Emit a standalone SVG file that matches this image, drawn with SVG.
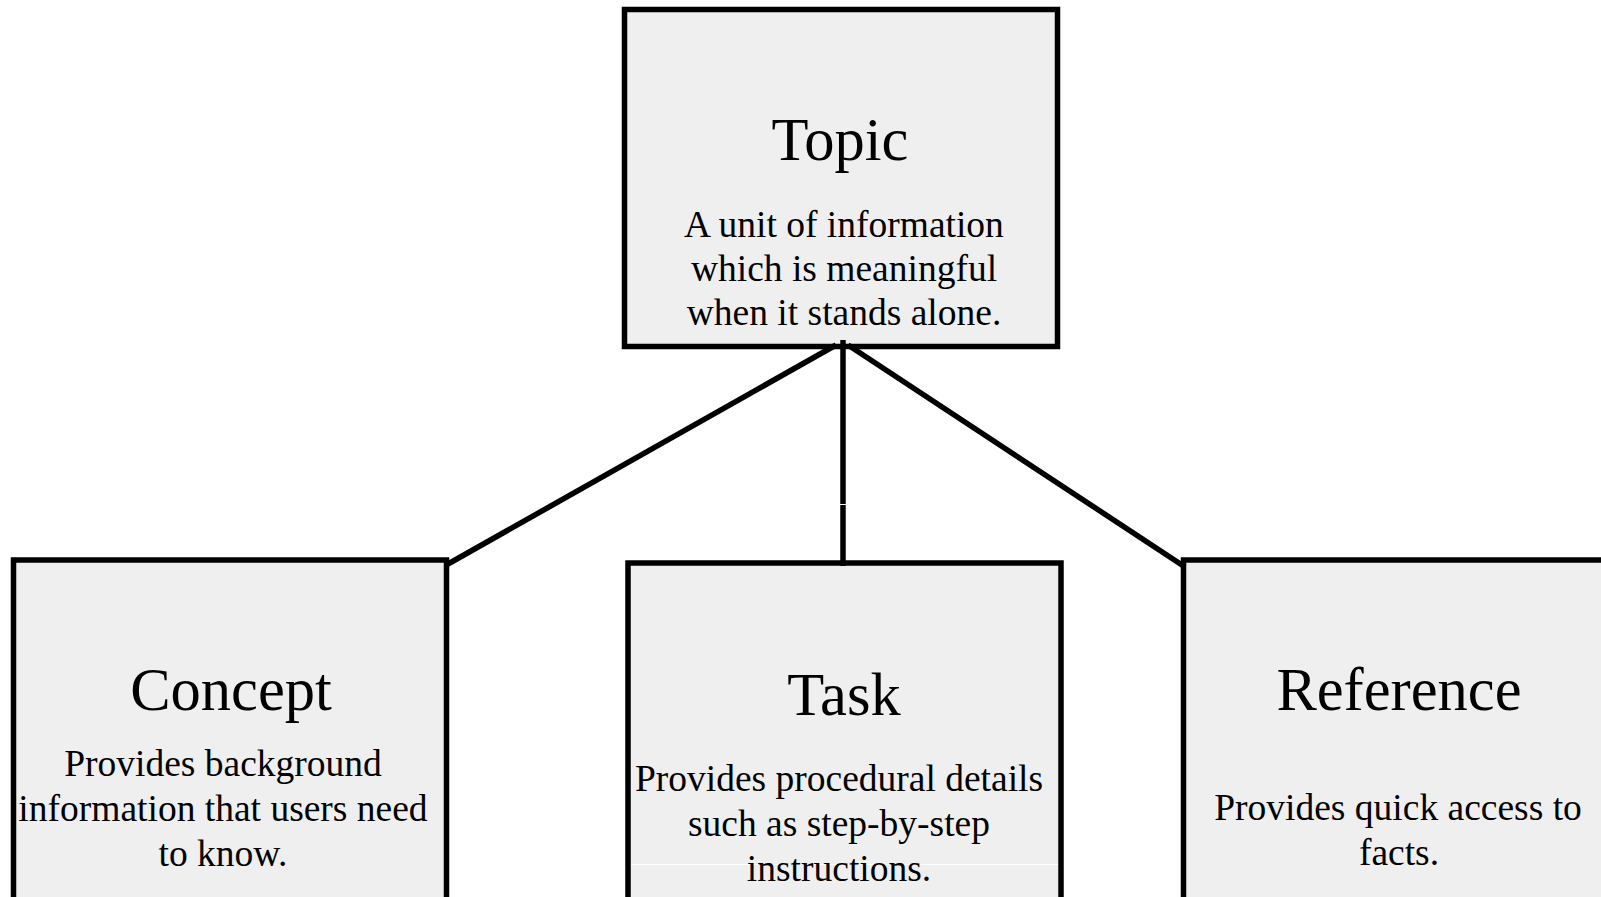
<svg xmlns="http://www.w3.org/2000/svg" width="1601" height="897" viewBox="0 0 1601 897">
<style>
.box{fill:#efefef;stroke:#000;stroke-width:5.5}
.t{font-family:"Liberation Serif","Times New Roman",serif;font-size:60.5px;fill:#000;text-anchor:middle}
.d{font-family:"Liberation Serif","Times New Roman",serif;font-size:37.5px;fill:#000;text-anchor:middle}
.c{stroke:#000;stroke-width:5.5;fill:none}
</style>
<rect width="1601" height="897" fill="#fff"/>
<g id="topic">
<rect class="box" x="624.5" y="9.5" width="433" height="337"/>
<text class="t" x="840" y="160">Topic</text>
<text class="d" x="844" y="237">A unit of information</text>
<text class="d" x="844" y="281">which is meaningful</text>
<text class="d" x="844" y="325">when it stands alone.</text>
</g>
<g id="concept">
<rect class="box" x="13.5" y="560" width="433" height="360"/>
<text class="t" x="231" y="710">Concept</text>
<text class="d" x="223" y="776">Provides background</text>
<text class="d" x="223" y="821">information that users need</text>
<text class="d" x="223" y="866">to know.</text>
</g>
<g id="task">
<rect class="box" x="628" y="563" width="433" height="360"/>
<line x1="631" y1="864.5" x2="1058" y2="864.5" stroke="#fff" stroke-width="1"/>
<text class="t" x="844" y="715">Task</text>
<text class="d" x="839" y="791">Provides procedural details</text>
<text class="d" x="839" y="836">such as step-by-step</text>
<text class="d" x="839" y="881">instructions.</text>
</g>
<g id="reference">
<rect class="box" x="1183.5" y="560" width="433" height="360"/>
<text class="t" x="1399" y="710">Reference</text>
<text class="d" x="1398" y="820">Provides quick access to</text>
<text class="d" x="1399" y="865">facts.</text>
</g>
<g id="connectors">
<line class="c" x1="836" y1="345" x2="448" y2="564"/>
<line class="c" x1="843" y1="340" x2="843" y2="566"/>
<line class="c" x1="848" y1="345" x2="1185" y2="567"/>
<line x1="840" y1="504.5" x2="846" y2="504.5" stroke="#fff" stroke-width="1"/>
</g>
</svg>
